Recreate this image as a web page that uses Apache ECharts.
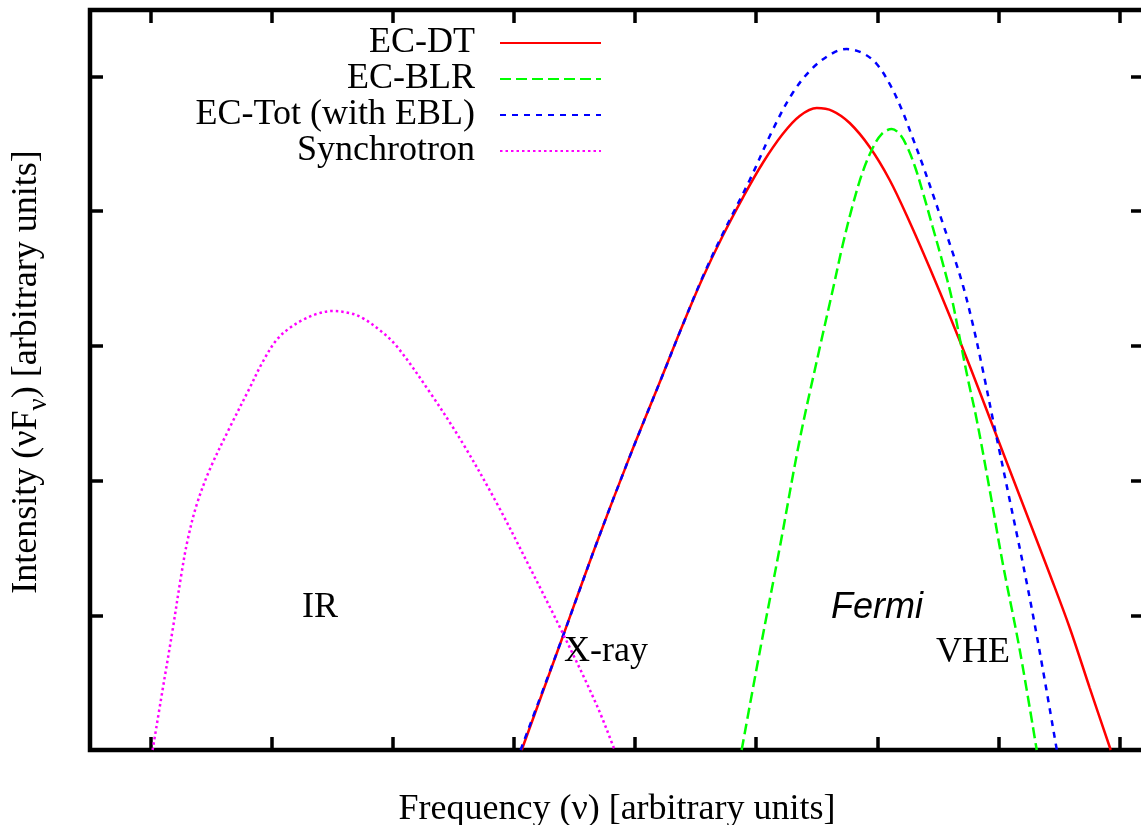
<!DOCTYPE html>
<html><head><meta charset="utf-8">
<script src="https://cdn.jsdelivr.net/npm/echarts@6/dist/echarts.min.js"></script>
<style>html,body{margin:0;padding:0;background:#fff}#c{width:1141px;height:825px}</style>
</head><body><div id="c"></div>
<script>
const seriesNames = ['EC-DT', 'EC-BLR', 'EC-Tot (with EBL)', 'Synchrotron'];
const ecDT = [[3.064,0],[3.402,0.839],[3.683,1.537],[3.955,2.176],[4.228,2.784],[4.393,3.155],[4.558,3.504],[4.723,3.816],[4.888,4.098],[5.054,4.358],[5.219,4.573],[5.359,4.707],[5.500,4.766],[5.632,4.744],[5.772,4.655],[5.937,4.477],[6.102,4.232],[6.267,3.920],[6.433,3.578],[6.598,3.222],[6.763,2.851],[6.928,2.465],[7.093,2.079],[7.258,1.693],[7.423,1.307],[7.589,0.906],[7.754,0.460],[7.927,0]];
const ecBLR = [[4.880,0],[5.029,0.728],[5.194,1.500],[5.359,2.302],[5.524,2.984],[5.632,3.415],[5.714,3.749],[5.797,4.046],[5.879,4.291],[5.962,4.469],[6.036,4.573],[6.119,4.610],[6.185,4.573],[6.243,4.484],[6.309,4.336],[6.375,4.143],[6.457,3.883],[6.540,3.615],[6.614,3.356],[6.680,3.059],[6.746,2.762],[6.821,2.450],[6.928,1.930],[7.035,1.388],[7.176,0.742],[7.316,0]];
const ecTot = [[3.055,0],[3.402,0.839],[3.683,1.537],[3.955,2.176],[4.228,2.784],[4.393,3.155],[4.558,3.512],[4.723,3.831],[4.946,4.231],[5.136,4.603],[5.301,4.878],[5.466,5.063],[5.632,5.174],[5.747,5.204],[5.879,5.174],[5.995,5.093],[6.111,4.930],[6.210,4.737],[6.292,4.544],[6.375,4.343],[6.458,4.128],[6.540,3.912],[6.623,3.690],[6.706,3.452],[6.788,3.162],[6.871,2.821],[6.969,2.390],[7.093,1.856],[7.234,1.240],[7.341,0.728],[7.482,0]];
const synchrotron = [[0.017,0],[0.099,0.445],[0.182,0.891],[0.256,1.314],[0.306,1.559],[0.380,1.819],[0.487,2.079],[0.652,2.391],[0.818,2.687],[0.925,2.880],[1.040,3.044],[1.148,3.133],[1.255,3.192],[1.371,3.237],[1.503,3.259],[1.643,3.244],[1.751,3.207],[1.891,3.118],[2.031,2.999],[2.304,2.658],[2.576,2.279],[2.857,1.834],[3.129,1.359],[3.402,0.869],[3.683,0.334],[3.831,0]];
const xTicks = [0,1,2,3,4,5,6,7,8];
const yTicks = [0,1,2,3,4,5];
const bandLabels = ['IR', 'X-ray', 'Fermi', 'VHE'];
const xTitle = 'Frequency (ν) [arbitrary units]';

const serif = '"Liberation Serif", "DejaVu Serif", serif';
const sans = '"Liberation Sans", Arial, sans-serif';

const chart = echarts.init(document.getElementById('c'), null, {renderer: 'canvas'});

const tickStyle = {show: true, inside: true, length: 13, lineStyle: {color: '#000', width: 3.5}};
function axisBase(extra) {
  return Object.assign({
    type: 'value',
    axisLine: {show: false, onZero: false},
    axisLabel: {show: false},
    splitLine: {show: false}
  }, extra);
}

function mkSeries(name, data, color, dash, width) {
  return {
    name: name, type: 'line', data: data, symbol: 'none', smooth: 0.35,
    xAxisIndex: 0, yAxisIndex: 0, clip: true,
    itemStyle: {color: color},
    lineStyle: {color: color, width: width, type: dash},
    emphasis: {disabled: true}
  };
}

const option = {
  animation: false,
  backgroundColor: '#fff',
  grid: {left: 90, top: 10, right: -3, bottom: 75, outerBoundsMode: 'none', containLabel: false,
    show: true, borderColor: '#000', borderWidth: 4.5, backgroundColor: 'transparent'},
  xAxis: [
    axisBase({position: 'bottom', min: -0.5, max: 8.2017,
      axisTick: Object.assign({customValues: xTicks}, tickStyle),
      name: xTitle, nameLocation: 'middle', nameGap: 42,
      nameTextStyle: {fontFamily: serif, fontSize: 36, color: '#000', padding: [0, 0, 0, 0]}}),
    axisBase({position: 'top', min: -0.5, max: 8.2017,
      axisTick: Object.assign({customValues: xTicks}, tickStyle)})
  ],
  yAxis: [
    axisBase({position: 'left', min: 0, max: 5.494,
      axisTick: Object.assign({customValues: yTicks}, tickStyle),
      name: '{m|Intensity (νF}{s|ν}{m|) [arbitrary units]}', nameLocation: 'middle', nameRotate: 90, nameGap: 38,
      nameTextStyle: {color: '#000', padding: [0, 0, 0, 16], rich: {
        m: {fontFamily: serif, fontSize: 36, lineHeight: 50, verticalAlign: 'middle', color: '#000'},
        s: {fontFamily: serif, fontSize: 27, lineHeight: 50, verticalAlign: 'bottom', color: '#000'}
      }}}),
    axisBase({position: 'right', min: 0, max: 5.494,
      axisTick: Object.assign({customValues: yTicks}, tickStyle)})
  ],
  legend: {
    data: seriesNames, orient: 'vertical', align: 'right',
    right: 539, top: 25, padding: 0, itemGap: 0, itemWidth: 101, itemHeight: 14,
    selectedMode: false,
    itemStyle: {opacity: 0},
    textStyle: {fontFamily: serif, fontSize: 36, lineHeight: 36, color: '#000', padding: [0, 20, 0, 0]}
  },
  series: [
    mkSeries(seriesNames[0], ecDT, '#ff0000', 'solid', 2.5),
    mkSeries(seriesNames[1], ecBLR, '#00ff00', [11, 5], 2.5),
    mkSeries(seriesNames[2], ecTot, '#0000ff', [6, 6], 2.5),
    mkSeries(seriesNames[3], synchrotron, '#ff00ff', [2.5, 3], 2.5)
  ],
  graphic: [
    {type: 'text', left: 302, top: 590, style: {text: bandLabels[0], font: '36px ' + serif, fill: '#000'}},
    {type: 'text', left: 564, top: 634, style: {text: bandLabels[1], font: '36px ' + serif, fill: '#000'}},
    {type: 'text', left: 831, top: 590, style: {text: bandLabels[2], font: 'italic 36px ' + sans, fill: '#000'}},
    {type: 'text', left: 936, top: 635, style: {text: bandLabels[3], font: '36px ' + serif, fill: '#000'}}
  ]
};
chart.setOption(option);
</script></body></html>
